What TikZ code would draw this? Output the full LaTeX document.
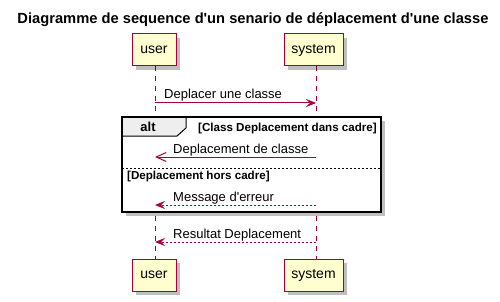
\documentclass[tikz,border=0pt]{standalone}
\usepackage{fontspec}
\setmainfont{Liberation Sans}
\usetikzlibrary{arrows.meta,shadows,calc}
\definecolor{umlred}{HTML}{A80036}
\definecolor{umlfill}{HTML}{FEFECE}
\definecolor{tabgray}{HTML}{EEEEEE}
\newcommand{\apos}{\textquotesingle}
\tikzset{
  actorbox/.style={draw=umlred, fill=umlfill, line width=1pt, minimum width=#1, minimum height=32pt,
    inner sep=0pt, font=\fontsize{14}{16}\selectfont,
    drop shadow={shadow xshift=4pt, shadow yshift=-4pt, fill=black, opacity=0.25}},
  lifeline/.style={draw=umlred, line width=0.8pt, dash pattern=on 5pt off 5pt},
  msg/.style={draw=umlred, line width=1pt},
  ret/.style={msg, dash pattern=on 2pt off 2pt},
  fullhead/.style={-{Stealth[length=10pt, width=8pt, inset=4pt]}},
  openhead/.style={-{Straight Barb[length=10pt, width=9pt]}},
  msgtext/.style={anchor=base west, inner sep=0pt, font=\fontsize{13}{15}\selectfont},
  guard/.style={inner sep=0pt, font=\fontsize{11.6}{13}\selectfont\bfseries},
}
\begin{document}
\begin{tikzpicture}[x=1pt, y=-1pt]
\useasboundingbox (0,0) rectangle (500,302);

% title
\node[font=\fontsize{14.7}{17}\selectfont\bfseries] (title) at (253,20)
  {Diagramme de sequence d\apos un senario de déplacement d\apos une classe};

% lifeline anchors
\coordinate (uTop) at (155,66);
\coordinate (uBot) at (155,259);
\coordinate (sTop) at (316,66);
\coordinate (sBot) at (316,259);
\draw[lifeline] (uTop) -- (uBot);
\draw[lifeline] (sTop) -- (sBot);

% participants
\node[actorbox=44pt] (user1) at (154,50) {user};
\node[actorbox=59pt] (sys1) at (313.5,50) {system};
\node[actorbox=44pt] (user2) at (154,275) {user};
\node[actorbox=59pt] (sys2) at (313.5,275) {system};

% message points on the lifelines
\coordinate (u1) at (155,103); \coordinate (s1) at (316,103);
\coordinate (u2) at (155,157); \coordinate (s2) at (316,157);
\coordinate (u3) at (155,205); \coordinate (s3) at (316,205);
\coordinate (u4) at (155,242); \coordinate (s4) at (316,242);

% alt fragment
\coordinate (fNW) at (122,117);
\coordinate (fSE) at (381,212);
\fill[black, opacity=0.25] ($(fNW)+(4,4)$) rectangle ($(fSE)+(4,4)$);
\fill[white] (fNW) rectangle (fSE);
\filldraw[fill=tabgray, draw=black, line width=1pt]
  (122,117) -- (186,117) -- (186,128) -- (177,136) -- (122,136) -- cycle;
\draw[line width=1.5pt] (fNW) rectangle (fSE);
\node[font=\fontsize{13}{15}\selectfont\bfseries, inner sep=0pt] (altlbl) at (148,127) {alt};
\node[guard, anchor=east] (g1) at (377,128.5) {[Class Deplacement dans cadre]};
\coordinate (sepL) at (122,168);
\coordinate (sepR) at (381,168);
\draw[line width=0.8pt, dash pattern=on 2pt off 2pt] (sepL) -- (sepR);
\node[guard, anchor=west] (g2) at (127,176) {[Deplacement hors cadre]};

% messages
\draw[msg, fullhead] (u1) -- (s1);
\node[msgtext] (m1) at (164,99) {Deplacer une classe};
\draw[msg, openhead] (s2) -- (u2);
\node[msgtext] (m2) at (173,153) {Deplacement de classe};
\draw[ret, fullhead] (s3) -- (u3);
\node[msgtext] (m3) at (173,201) {Message d\apos erreur};
\draw[ret, fullhead] (s4) -- (u4);
\node[msgtext] (m4) at (173,238) {Resultat Deplacement};
\end{tikzpicture}
\end{document}
